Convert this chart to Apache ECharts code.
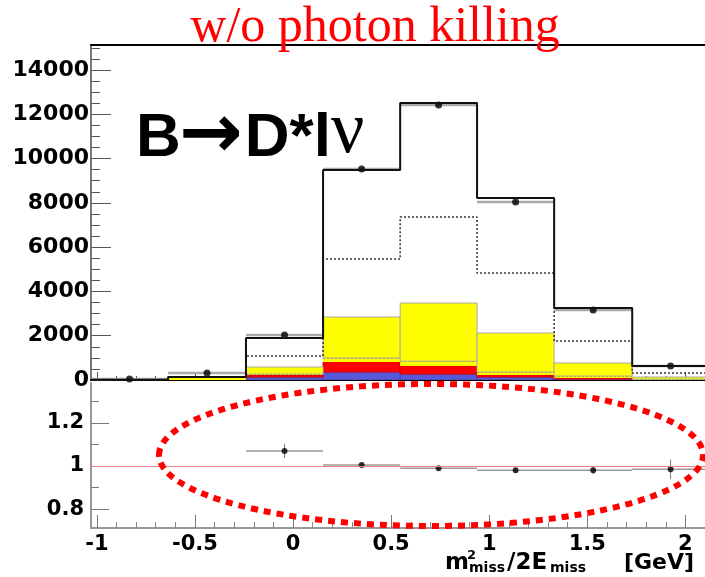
<!DOCTYPE html>
<html>
<head>
<meta charset="utf-8">
<script src="https://cdn.jsdelivr.net/npm/echarts@6/dist/echarts.min.js"></script>
<style>
html, body { margin: 0; padding: 0; background: #fff; overflow: hidden; }
#chart { width: 705px; height: 577px; }
</style>
</head>
<body>
<div id="chart"></div>
<script>
// bin edges of m2miss/2Emiss [GeV]
const binEdges = [-1.03, -0.637, -0.24, 0.153, 0.546, 0.938, 1.331, 1.729, 2.12];
// MC components (heights per bin, stacked bottom to top)
const blueMC = [0, 0, 135, 360, 271, 135, 45, 0];
const redMC = [0, 0, 90, 453, 361, 91, 45, 0];
const oliveMC = [0, 135, 45, 181, 218, 135, 90, 45];
const yellowMC = [0, 0, 317, 1851, 2627, 1762, 588, 90];
// outlines
const dottedMC = [0, 135, 1084, 5464, 7361, 4832, 1761, 316];
const totalMC = [10, 135, 1897, 9484, 12510, 8219, 3252, 632];
// data points
const dataY = [45, 316, 2032, 9530, 12420, 8038, 3160, 632];
const dataErr = [7, 18, 45, 98, 111, 90, 56, 25];
// ratio data / MC
const ratio = [null, null, 1.07, 1.005, 0.99, 0.98, 0.98, 0.985];
const ratioErr = [0, 0, 0.033, 0.008, 0.008, 0.01, 0.018, 0.045];

// tick positions
const xMajor = [-1, -0.5, 0, 0.5, 1, 1.5, 2];
const yMajor = [0, 2000, 4000, 6000, 8000, 10000, 12000, 14000];
const ratioMajor = [0.8, 1, 1.2];
const ratioMinor = [0.9, 1.1, 1.3];
const xMinor = [];
for (let i = -10; i <= 21; i++) if (i % 5 !== 0) xMinor.push(i / 10);
const yMinor = [];
for (let v = 500; v <= 15000; v += 500) if (v % 2000 !== 0) yMinor.push(v);

const X_MIN = -1.03, X_MAX = 2.10;
const centers = binEdges.slice(0, -1).map((e, i) => (e + binEdges[i + 1]) / 2);
const labelFont = { fontFamily: 'DejaVu Sans', fontWeight: 'bold', color: '#000', formatter: v => String(v) };

const chart = echarts.init(document.getElementById('chart'));

// cumulative stack bottoms
const layers = [
  { h: blueMC, fill: '#5858dc', stroke: '#4444aa' },
  { h: redMC, fill: '#ff0000', stroke: '#dd0000' },
  { h: oliveMC, fill: '#ffff00', stroke: null, dotted: true },
  { h: yellowMC, fill: '#ffff00', stroke: '#aaaaaa' },
];
const base = blueMC.map(() => 0);

const layerSeries = layers.map(layer => {
  const rows = layer.h.map((h, i) => {
    const row = [binEdges[i], binEdges[i + 1], base[i], base[i] + h];
    base[i] += h;
    return row;
  });
  return {
    type: 'custom',
    xAxisIndex: 0,
    yAxisIndex: 0,
    silent: true,
    clip: true,
    data: rows,
    encode: { x: [0, 1], y: [2, 3] },
    renderItem: (params, api) => {
      if (api.value(3) - api.value(2) <= 0) return null;
      const p0 = api.coord([api.value(0), api.value(3)]);
      const p1 = api.coord([api.value(1), api.value(2)]);
      const children = [{
        type: 'rect',
        shape: { x: p0[0], y: p0[1], width: p1[0] - p0[0], height: p1[1] - p0[1] },
        style: { fill: layer.fill, stroke: layer.stroke, lineWidth: layer.stroke ? 1 : 0 },
      }];
      if (layer.dotted) {
        children.push({
          type: 'line',
          shape: { x1: p0[0], y1: p0[1], x2: p1[0], y2: p0[1] },
          style: { stroke: '#9a9000', lineWidth: 1.5, lineDash: [2, 2] },
        });
      }
      return { type: 'group', children };
    },
  };
});

const stepPoints = vals => {
  const pts = vals.map((v, i) => [binEdges[i], v]);
  pts.push([binEdges[vals.length], vals[vals.length - 1]]);
  return pts;
};

const errorSeries = (vals, errs, xIdx, yIdx, color, hw) => ({
  type: 'custom',
  xAxisIndex: xIdx,
  yAxisIndex: yIdx,
  silent: true,
  clip: true,
  data: vals.map((v, i) => [binEdges[i], binEdges[i + 1], centers[i], v, errs[i]]).filter(r => r[3] != null),
  encode: { x: [0, 1], y: 3 },
  renderItem: (params, api) => {
    const l = api.coord([api.value(0), api.value(3)]);
    const r = api.coord([api.value(1), api.value(3)]);
    const t = api.coord([api.value(2), api.value(3) + api.value(4)]);
    const b = api.coord([api.value(2), api.value(3) - api.value(4)]);
    return {
      type: 'group',
      children: [
        { type: 'line', shape: { x1: l[0], y1: l[1], x2: r[0], y2: r[1] }, style: { stroke: color, lineWidth: hw } },
        { type: 'line', shape: { x1: t[0], y1: t[1], x2: b[0], y2: b[1] }, style: { stroke: '#777', lineWidth: 1 } },
      ],
    };
  },
});

const xBase = { type: 'value', min: X_MIN, max: X_MAX, splitLine: { show: false } };
const noLine = { show: false, onZero: false };

chart.setOption({
  animation: false,
  backgroundColor: '#fff',
  grid: [
    { left: 91, top: 45, width: 614, height: 335 },
    { left: 91, top: 383, width: 614, height: 145 },
  ],
  xAxis: [
    { ...xBase, gridIndex: 0, position: 'bottom',
      axisLine: { onZero: false, lineStyle: { color: '#000', width: 2 } },
      axisTick: { inside: true, length: 8, customValues: xMajor, lineStyle: { color: '#555' } },
      axisLabel: { show: false } },
    { ...xBase, gridIndex: 0, position: 'bottom', axisLine: noLine,
      axisTick: { inside: true, length: 4, customValues: xMinor, lineStyle: { color: '#555' } },
      axisLabel: { show: false } },
    { ...xBase, gridIndex: 0, position: 'top',
      axisLine: { onZero: false, lineStyle: { color: '#000', width: 2 } },
      axisTick: { show: false }, axisLabel: { show: false } },
    { ...xBase, gridIndex: 1, position: 'bottom',
      axisLine: { onZero: false, lineStyle: { color: '#999', width: 2 } },
      axisTick: { inside: true, length: 13, customValues: xMajor, lineStyle: { color: '#777' } },
      axisLabel: { ...labelFont, fontSize: 21, margin: 6, customValues: xMajor } },
    { ...xBase, gridIndex: 1, position: 'bottom', axisLine: noLine,
      axisTick: { inside: true, length: 6, customValues: xMinor, lineStyle: { color: '#888' } },
      axisLabel: { show: false } },
  ],
  yAxis: [
    { type: 'value', gridIndex: 0, min: 0, max: 15130, position: 'left', splitLine: { show: false },
      axisLine: { onZero: false, lineStyle: { color: '#777', width: 2 } },
      axisTick: { inside: true, length: 20, customValues: yMajor, lineStyle: { color: '#555' } },
      axisLabel: { ...labelFont, fontSize: 22, margin: 2, customValues: yMajor } },
    { type: 'value', gridIndex: 0, min: 0, max: 15130, position: 'left', splitLine: { show: false },
      axisLine: noLine,
      axisTick: { inside: true, length: 9, customValues: yMinor, lineStyle: { color: '#555' } },
      axisLabel: { show: false } },
    { type: 'value', gridIndex: 1, min: 0.712, max: 1.386, position: 'left', splitLine: { show: false },
      axisLine: { onZero: false, lineStyle: { color: '#999', width: 2 } },
      axisTick: { inside: true, length: 18, customValues: ratioMajor, lineStyle: { color: '#777' } },
      axisLabel: { ...labelFont, fontSize: 21, margin: 7, customValues: ratioMajor } },
    { type: 'value', gridIndex: 1, min: 0.712, max: 1.386, position: 'left', splitLine: { show: false },
      axisLine: noLine,
      axisTick: { inside: true, length: 8, customValues: ratioMinor, lineStyle: { color: '#777' } },
      axisLabel: { show: false } },
  ],
  series: [
    ...layerSeries,
    {
      type: 'line', xAxisIndex: 0, yAxisIndex: 0, step: 'end', symbol: 'none', silent: true,
      data: stepPoints(dottedMC),
      lineStyle: { color: '#333', width: 1.5, type: [2, 2] },
    },
    {
      type: 'line', xAxisIndex: 0, yAxisIndex: 0, step: 'end', symbol: 'none', silent: true,
      data: stepPoints(totalMC),
      lineStyle: { color: '#111', width: 2 },
    },
    errorSeries(dataY, dataErr, 0, 0, '#aaa', 2.5),
    {
      type: 'scatter', xAxisIndex: 0, yAxisIndex: 0, silent: true,
      data: dataY.map((v, i) => [centers[i], v]),
      symbol: 'circle', symbolSize: 7, itemStyle: { color: '#000' },
    },
    errorSeries(ratio, ratioErr, 3, 2, '#999', 1.5),
    {
      type: 'scatter', xAxisIndex: 3, yAxisIndex: 2, silent: true,
      data: ratio.map((v, i) => [centers[i], v]).filter(p => p[1] != null),
      symbol: 'circle', symbolSize: 6, itemStyle: { color: '#000' },
      markLine: {
        silent: true, symbol: 'none', label: { show: false },
        lineStyle: { color: '#f08080', width: 1, type: 'solid' },
        data: [{ yAxis: 1 }],
      },
    },
  ],
  graphic: [
    { type: 'text', x: 375, y: 3, z: 50,
      style: { text: 'w/o photon killing', fill: '#ff0000', font: '50px "Liberation Serif"', align: 'center', verticalAlign: 'top' } },
    { type: 'text', x: 136, y: 96, z: 50,
      style: {
        text: '{a|B}{s| }{a|D*l}{b|ν}', verticalAlign: 'top',
        rich: {
          a: { fontFamily: 'Liberation Sans', fontWeight: 'bold', fontSize: 62, fill: '#000', verticalAlign: 'bottom' },
          s: { fontSize: 62, width: 64 },
          b: { fontFamily: 'Liberation Serif', fontSize: 74, fill: '#000', verticalAlign: 'bottom' },
        },
      } },
    { type: 'text', x: 179, y: 137, z: 50,
      style: { text: '→', fill: '#000', font: 'bold 76px "DejaVu Sans"', verticalAlign: 'middle' } },
    { type: 'text', x: 445, y: 552, z: 50, style: { text: 'm', fill: '#000', font: 'bold 23px "DejaVu Sans"', verticalAlign: 'top' } },
    { type: 'text', x: 467, y: 549, z: 50, style: { text: '2', fill: '#000', font: 'bold 13px "DejaVu Sans"', verticalAlign: 'top' } },
    { type: 'text', x: 469, y: 561, z: 50, style: { text: 'miss', fill: '#000', font: 'bold 14px "DejaVu Sans"', verticalAlign: 'top' } },
    { type: 'text', x: 507, y: 552, z: 50, style: { text: '/2E', fill: '#000', font: 'bold 23px "DejaVu Sans"', verticalAlign: 'top' } },
    { type: 'text', x: 550, y: 561, z: 50, style: { text: 'miss', fill: '#000', font: 'bold 14px "DejaVu Sans"', verticalAlign: 'top' } },
    { type: 'text', x: 624, y: 552, z: 50, style: { text: '[GeV]', fill: '#000', font: 'bold 22px "DejaVu Sans"', verticalAlign: 'top' } },
    { type: 'ellipse', z: 100, silent: true,
      shape: { cx: 431, cy: 455, rx: 272, ry: 71 },
      style: { fill: 'none', stroke: '#ff0000', lineWidth: 6, lineDash: [7, 6] } },
  ],
});
</script>
</body>
</html>
